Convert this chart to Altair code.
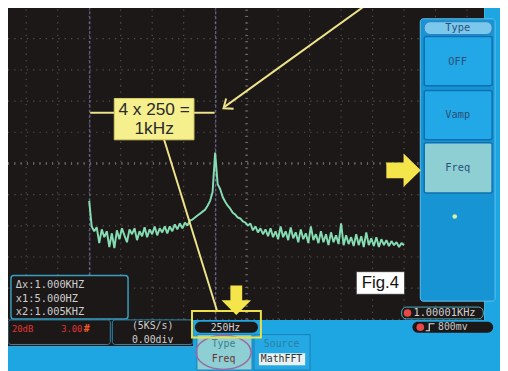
import altair as alt
import pandas as pd

# ---------------- values ----------------
# FFT trace: bin frequency (Hz) and level (dB; 20 dB/div, 0 dB = screen centre line)
freq_hz = list(range(0, 2501, 20))
level_db = [
    -24.0, -40.4, -43.5, -41.0, -51.1, -42.3, -47.3, -43.5, -53.6, -44.8,   # 0-180 Hz
    -54.3, -42.9, -48.6, -41.6, -46.1, -50.5, -42.3, -45.4, -41.6, -49.2,   # 200-380
    -43.5, -46.7, -41.0, -47.3, -42.3, -45.4, -40.4, -46.1, -41.6, -44.2,   # 400-580
    -40.4, -44.8, -40.4, -43.5, -39.1, -42.3, -38.5, -41.6, -37.9, -39.8,   # 600-780
    -36.6, -36.0, -34.7, -33.4, -32.2, -30.9, -29.7, -27.1, -24.0, -18.3,   # 800-980
    6.9, -13.3, -16.4, -21.5, -24.6, -27.1, -29.0, -31.6, -32.8, -34.7,     # 1000-1180
    -35.3, -37.2, -37.9, -39.8, -38.5, -42.9, -40.4, -44.2, -41.6, -45.4,   # 1200-1380
    -42.3, -46.7, -41.6, -47.3, -43.5, -48.6, -40.4, -47.3, -43.5, -49.2,   # 1400-1580
    -41.0, -48.0, -44.2, -50.5, -42.3, -48.6, -44.8, -51.1, -40.4, -49.2,   # 1600-1780
    -45.4, -51.1, -43.5, -50.5, -45.4, -52.4, -44.2, -50.5, -46.1, -51.7,   # 1800-1980
    -38.5, -52.4, -46.1, -51.7, -47.3, -53.0, -45.4, -52.4, -46.7, -53.6,   # 2000-2180
    -44.2, -52.4, -48.0, -53.0, -47.3, -53.6, -48.6, -52.4, -49.2, -53.0,   # 2200-2380
    -49.8, -52.4, -50.5, -53.6, -51.1, -52.4,                               # 2400-2500
]
assert len(freq_hz) == len(level_db)

grid_freqs = [-500, -250, 0, 250, 500, 750, 1000, 1250, 1500, 1750, 2000, 2250, 2500, 2750, 3000]
grid_levels = [-100, -80, -60, -40, -20, 0, 20, 40, 60, 80, 100]
centre_freq, centre_level = 1250, 0
cursor_freqs = [5, 1005]

measure_lines = ["\u0394x:1.000KHZ", "x1:5.000HZ", "x2:1.005KHZ"]
menu_title = "Type"
menu_labels = ["OFF", "Vamp", "Freq"]
math_scale = ["20dB", "3.00"]
timebase = ["(5KS/s)", "0.00div"]
fft_div = "250Hz"
trig_freq = "1.00001KHz"
trig_level = "800mv"
soft_keys = [("Type", "Freq"), ("Source", "MathFFT")]
note_lines = ["4 x 250 =", "1kHz"]
fig_label = "Fig.4"

# ---------------- frame / scales ----------------
W, H = 500, 363
PX_L, PX_R, PX_T, PX_B = 8, 508, 4, 367
UX = alt.Scale(domain=[PX_L, PX_R], nice=False, zero=False)
UY = alt.Scale(domain=[PX_T, PX_B], reverse=True, nice=False, zero=False)

HZ0_PX, PX_PER_HZ = 90.5, 32 / 250
DB0_PX, PX_PER_DB = 159.0, 31.7 / 20
SX = alt.Scale(domain=[(PX_L - HZ0_PX) / PX_PER_HZ, (PX_R - HZ0_PX) / PX_PER_HZ], nice=False, zero=False)
SY = alt.Scale(domain=[(DB0_PX - PX_B) / PX_PER_DB, (DB0_PX - PX_T) / PX_PER_DB], nice=False, zero=False)
SCREEN_F = [(PX_L - HZ0_PX) / PX_PER_HZ, (492 - HZ0_PX) / PX_PER_HZ]

DARK = "#1c1818"
BLUE = "#1ea6e2"
MONO = "DejaVu Sans Mono"
SANS = "Liberation Sans"


def ux(f="x"):
    return alt.X(f"{f}:Q", scale=UX, axis=None)


def uy(f="y"):
    return alt.Y(f"{f}:Q", scale=UY, axis=None)


def ui_rect(rows, **mk):
    df = pd.DataFrame(rows, columns=["x", "x2", "y", "y2"])
    return alt.Chart(df).mark_rect(**mk).encode(x=ux(), x2="x2:Q", y=uy(), y2="y2:Q")


def ui_text(rows, **mk):
    df = pd.DataFrame(rows, columns=["x", "y", "t"])
    mk.setdefault("baseline", "middle")
    return alt.Chart(df).mark_text(**mk).encode(x=ux(), y=uy(), text="t:N")


def ui_symbol(rows, **mk):
    df = pd.DataFrame(rows, columns=["x", "y"])
    mk.setdefault("opacity", 1)
    return alt.Chart(df).mark_point(**mk).encode(x=ux(), y=uy())


def ui_line(rows, **mk):
    df = pd.DataFrame(rows, columns=["x", "y", "x2", "y2"])
    return alt.Chart(df).mark_rule(**mk).encode(x=ux(), y=uy(), x2="x2:Q", y2="y2:Q")


layers = []

# screen background
layers.append(ui_rect([(8, 492, 0, 318), (8, 196, 318, 345)], color=DARK))

# graticule
vg = pd.DataFrame({"f": grid_freqs, "lo": -100, "hi": 100})
layers.append(alt.Chart(vg).mark_rule(color="#545050", strokeWidth=1.2, strokeDash=[1.3, 5.1]).encode(
    x=alt.X("f:Q", scale=SX, axis=None), y=alt.Y("lo:Q", scale=SY, axis=None), y2="hi:Q"))
hg = pd.DataFrame({"l": grid_levels, "a": SCREEN_F[0], "b": SCREEN_F[1]})
layers.append(alt.Chart(hg).mark_rule(color="#545050", strokeWidth=1.2, strokeDash=[1.3, 5.1]).encode(
    y=alt.Y("l:Q", scale=SY, axis=None), x=alt.X("a:Q", scale=SX, axis=None), x2="b:Q"))
cv = pd.DataFrame({"f": [centre_freq], "lo": -100, "hi": 100})
layers.append(alt.Chart(cv).mark_rule(color="#6c6868", strokeWidth=3, strokeDash=[1, 5.4]).encode(
    x=alt.X("f:Q", scale=SX, axis=None), y=alt.Y("lo:Q", scale=SY, axis=None), y2="hi:Q"))
ch = pd.DataFrame({"l": [centre_level], "a": SCREEN_F[0], "b": SCREEN_F[1]})
layers.append(alt.Chart(ch).mark_rule(color="#6c6868", strokeWidth=3, strokeDash=[1, 5.4]).encode(
    y=alt.Y("l:Q", scale=SY, axis=None), x=alt.X("a:Q", scale=SX, axis=None), x2="b:Q"))

# cursors
cu = pd.DataFrame({"f": cursor_freqs, "lo": -100, "hi": 100})
layers.append(alt.Chart(cu).mark_rule(color="#8a86c4", strokeWidth=1, strokeDash=[3, 2], opacity=0.85).encode(
    x=alt.X("f:Q", scale=SX, axis=None), y=alt.Y("lo:Q", scale=SY, axis=None), y2="hi:Q"))

# spectrum trace
tr = pd.DataFrame({"f": freq_hz, "db": level_db})
layers.append(alt.Chart(tr).mark_line(color="#86dcb2", strokeWidth=2, strokeJoin="bevel").encode(
    x=alt.X("f:Q", scale=SX, axis=None), y=alt.Y("db:Q", scale=SY, axis=None)))

# blue instrument body
layers.append(ui_rect([(492, 508, 0, 370), (196, 508, 318, 370), (8, 196, 345, 370)], color=BLUE))

# right-hand menu
layers.append(ui_rect([(427, 503, 12, 299)], color="#1794d4", stroke="#5ec2ee", strokeWidth=1, cornerRadius=3))
layers.append(ui_rect([(431, 500, 15, 28)], color="#7cc8ec", stroke="#2d80c0", strokeWidth=1, cornerRadius=6))
layers.append(ui_rect([(431, 500, 30, 80), (431, 500, 85, 135)], color="#22a8e6", stroke="#0f6fb2",
                      strokeWidth=1.5, cornerRadius=2))
layers.append(ui_rect([(431, 500, 138, 189)], color="#8dcfd3", stroke="#0f6fb2", strokeWidth=1.5, cornerRadius=2))
layers.append(ui_text([(465, 21.5, menu_title), (465, 56, menu_labels[0]), (465, 110, menu_labels[1]),
                       (465, 164, menu_labels[2])], font=MONO, fontSize=10.5, color="#2b4f78", align="center"))
layers.append(ui_symbol([(462, 213)], shape="circle", filled=True, color="#d8f0a8", size=22, strokeWidth=0))

# measurement box
layers.append(ui_rect([(11, 130, 273, 317)], color=DARK, stroke="#3b9ec0", strokeWidth=1.5, cornerRadius=3))
layers.append(ui_text([(16, 283, measure_lines[0]), (16, 296.5, measure_lines[1]), (16, 310, measure_lines[2])],
                      font=MONO, fontSize=10.5, color="#cfcfcf", align="left"))

# bottom status boxes
layers.append(ui_rect([(8, 112, 318, 343), (114, 196, 318, 343)], color=DARK, stroke="#2d8aac",
                      strokeWidth=1, cornerRadius=3))
layers.append(ui_text([(12, 327, math_scale[0]), (62, 327, math_scale[1])], font=MONO, fontSize=9,
                      color="#e03434", align="left"))
layers.append(ui_text([(85, 327, "#")], font=MONO, fontSize=10, fontWeight="bold", color="#ee5a2a", align="left"))
layers.append(ui_text([(155, 324, timebase[0]), (155, 338, timebase[1])], font=MONO, fontSize=10,
                      color="#cfcfcf", align="center"))
layers.append(ui_rect([(198, 262, 320, 331)], color=DARK, cornerRadius=6))
layers.append(ui_text([(229, 326, fft_div)], font=MONO, fontSize=10, color="#d0d0d0", align="center"))

# soft keys
layers.append(ui_rect([(200, 256, 333, 369)], color="#8dcfd3", stroke="#1a7fb8", strokeWidth=1))
layers.append(ui_rect([(258, 315, 333, 369)], color="#24a9e4", stroke="#1a7fb8", strokeWidth=1))
layers.append(ui_rect([(263, 310, 352, 364)], color="#e8f2f2"))
layers.append(ui_text([(227, 343, soft_keys[0][0])], font=MONO, fontSize=10, color="#3d7f90", align="center"))
layers.append(ui_text([(227, 358, soft_keys[0][1])], font=MONO, fontSize=10, color="#6a3030", align="center"))
layers.append(ui_text([(286, 343, soft_keys[1][0])], font=MONO, fontSize=10, color="#2f7f9a", align="center"))
layers.append(ui_text([(286, 358, soft_keys[1][1])], font=MONO, fontSize=10, color="#333333", align="center"))
layers.append(ui_symbol([(227, 351)], shape="M-1,0 A1,0.62 0 1,1 1,0 A1,0.62 0 1,1 -1,0 Z", filled=False,
                        color="#9a6aa6", strokeWidth=1.5, size=3136))

# trigger readouts
layers.append(ui_rect([(408, 491, 305, 317)], color=DARK, stroke="#46b0c4", strokeWidth=1, cornerRadius=5))
layers.append(ui_rect([(419, 501, 320, 331)], color=DARK, cornerRadius=6))
layers.append(ui_symbol([(414, 311), (427, 325.5)], shape="circle", filled=True, color="#e84848", size=60,
                        strokeWidth=0))
layers.append(ui_symbol([(437, 325.5)], shape="M-1,0.8 L-0.2,0.8 L-0.2,-0.8 L1,-0.8", filled=False,
                        color="#e0e0e0", strokeWidth=1.2, size=80))
layers.append(ui_text([(420, 311, trig_freq)], font=MONO, fontSize=10.5, color="#d0d0d0", align="left"))
layers.append(ui_text([(445, 325.5, trig_level)], font=MONO, fontSize=10, color="#c8c8c8", align="left"))

# Fig.4 label
layers.append(ui_rect([(362, 411, 269, 292)], color="#ffffff", stroke="#333333", strokeWidth=0.8))
layers.append(ui_text([(386.5, 281, fig_label)], font=SANS, fontSize=17, color="#111111", align="center"))

# yellow annotation
YEL = "#eee38a"
layers.append(ui_line([(91.5, 107.5, 116, 107.5), (197, 107.5, 218, 107.5), (369, 0, 228, 101.5),
                       (166.7, 135, 220.5, 309)], color=YEL, strokeWidth=2))
layers.append(ui_symbol([(227, 103)], shape="M-0.8,1 L0,0 L0.8,1", filled=False, color=YEL, strokeWidth=2,
                        size=256, angle=234))
layers.append(ui_rect([(116, 197, 93, 135)], color="#f6ef8e", stroke="#d8cf60", strokeWidth=1))
layers.append(ui_text([(156.5, 105, note_lines[0]), (156.5, 124.5, note_lines[1])], font=SANS, fontSize=17.5,
                      color="#2a2a2a", align="center"))
layers.append(ui_rect([(195, 265, 309, 336)], fillOpacity=0, stroke="#ede048", strokeWidth=2))
layers.append(ui_symbol([(240, 298)], shape="M-0.4,-1 L0.4,-1 L0.4,0 L1,0 L0,1 L-1,0 L-0.4,0 Z", filled=True,
                        color="#f4e64a", size=900, strokeWidth=0))
layers.append(ui_symbol([(410, 166)], shape="M-1,-0.46 L0,-0.46 L0,-0.97 L1,0 L0,0.97 L0,0.46 L-1,0.46 Z",
                        filled=True, color="#f4e64a", size=1225, strokeWidth=0))

chart = alt.layer(*layers).resolve_scale(x="independent", y="independent").properties(
    width=W, height=H, padding=0, autosize=alt.AutoSizeParams(type="none"), background="white"
).configure_view(stroke=None)

chart.save("out.html", embed_options={"renderer": "svg", "actions": False})
